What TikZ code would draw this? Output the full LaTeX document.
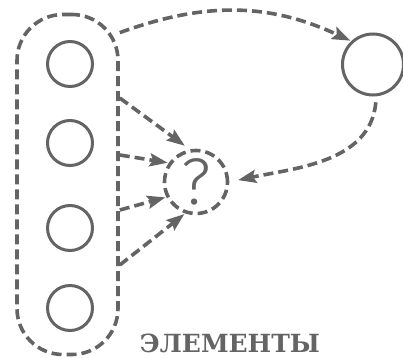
\documentclass[tikz,border=0pt]{standalone}
\usepackage{fontspec}
\newfontfamily\labelfont{DejaVu Serif}
\newfontfamily\qfont{Fira Sans Light}
\usetikzlibrary{arrows.meta}
\definecolor{inkgray}{RGB}{100,100,100}
\tikzset{
  dashline/.style={draw=inkgray, line width=3.6pt, dash pattern=on 10pt off 5pt},
  flow/.style={dashline, -{Stealth[length=18pt,width=13pt,inset=3pt]}},
  unit/.style={circle, draw=inkgray, line width=3pt, minimum size=45pt, inner sep=0pt},
}
\begin{document}
\begin{tikzpicture}[x=1pt,y=1pt]
  \useasboundingbox (0,0) rectangle (403,357);
  % Group of elements
  \node[dashline, rounded corners=46pt, minimum width=101pt, minimum height=340pt] (group) at (67.5,172.5) {};
  \foreach \y/\name in {293/e1, 214/e2, 129/e3, 49/e4}
    \node[unit] (\name) at (70,\y) {};
  \node[font=\labelfont\bfseries\fontsize{25}{25}\selectfont, text=inkgray, anchor=base] (label) at (230,5) {ЭЛЕМЕНТЫ};
  % Output and unknown
  \node[unit, minimum size=61pt] (out) at (373,292.5) {};
  \node[circle, dashline, minimum size=63pt, inner sep=0pt, text=inkgray,
        font=\qfont\fontsize{66}{66}\selectfont] (q) at (196,175) {?};
  % Connectors
  \draw[flow, shorten >=1pt] (group.71.3) to[out=20, in=155] (out.133);
  \draw[flow, shorten <=6pt, shorten >=9pt] (out.276) to[out=-95, in=12] (q.east);
  \foreach \dy/\ang/\gap in {86.5/101.6/6, 29.5/145/1, -25.5/207/1, -80.5/251.6/1}
    \draw[flow, shorten >=\gap pt] ([yshift=\dy pt]group.east) -- (q.\ang);
\end{tikzpicture}
\end{document}
